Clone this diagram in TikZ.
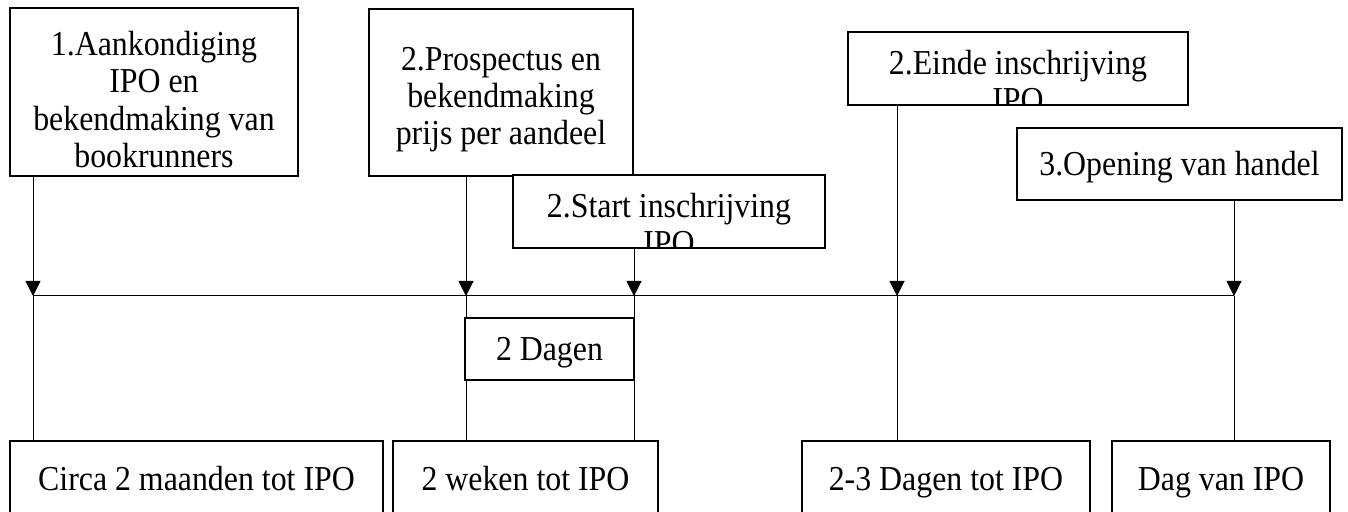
\documentclass[tikz,border=0pt]{standalone}
\usepackage{fontspec}
\setmainfont{Liberation Serif}[FakeStretch=0.91]
\usetikzlibrary{arrows.meta,positioning,calc}
\definecolor{fgbody}{HTML}{000000}
\definecolor{stroke}{HTML}{000000}
\definecolor{surf}{HTML}{FFFFFF}

\begin{document}
\begin{tikzpicture}[
  x=0.5pt, y=-0.5pt, >={Triangle[length=7.5pt,width=7.5pt]},
  every node/.append style={text=fgbody, font=\fontsize{17.5}{18.7}\selectfont},
  evt/.style={draw=stroke, line width=1pt, fill=surf, align=center, inner sep=0pt,
    text height=14pt, text depth=2pt},
  link/.style={draw=stroke, line width=0.5pt},
  inset/.style 2 args={path picture={\node[anchor=north, align=center, inner sep=0pt,
    draw=none, fill=none, minimum width=0pt, minimum height=0pt,
    text height=, text depth=]
    at ([yshift=-#1]path picture bounding box.north) {#2};}},
]
\useasboundingbox (0,0) rectangle (1348,512);
% timeline points
\coordinate (t1) at (33,296);
\coordinate (t2) at (466,296);
\coordinate (t3) at (634,296);
\coordinate (t4) at (897,296);
\coordinate (t5) at (1234,296);
% events above the line
\node[evt, minimum width=144pt, minimum height=84pt,
  inset={11pt}{1.Aankondiging\\IPO en\\bekendmaking van\\bookrunners}] (aank) at (154,92) {};
\node[evt, minimum width=132pt, minimum height=83.5pt,
  inset={18.5pt}{2.Prospectus en\\bekendmaking\\prijs per aandeel}] (prosp) at (501,92.5) {};
\node[evt, minimum width=156pt, minimum height=36.5pt,
  inset={8.5pt}{2.Start inschrijving\\IPO}] (start) at (669,211.5) {};
\node[evt, minimum width=170pt, minimum height=36.5pt,
  inset={8.5pt}{2.Einde inschrijving\\IPO}] (einde) at (1018,68.5) {};
\node[evt, minimum width=162.5pt, minimum height=36pt] (open) at (1179.5,164)
  {3.Opening van handel};
% periods below the line
\node[evt, minimum width=186.5pt, minimum height=37pt] (circa) at (196.5,478)
  {Circa 2 maanden tot IPO};
\node[evt, minimum width=132.5pt, minimum height=37pt] (weken) at (525.5,478)
  {2 weken tot IPO};
\node[evt, minimum width=144pt, minimum height=37pt] (drie) at (946,478)
  {2-3 Dagen tot IPO};
\node[evt, minimum width=109pt, minimum height=37pt] (dag) at (1221,478)
  {Dag van IPO};
% arrows onto the line
\draw[->, link] (aank.south -| t1) -- (t1);
\draw[->, link] (prosp.south -| t2) -- (t2);
\draw[->, link] (start.south -| t3) -- (t3);
\draw[->, link] (einde.south -| t4) -- (t4);
\draw[->, link] (open.south -| t5) -- (t5);
% the line and its drops
\draw[link] (t1) -- (t5);
\draw[link] (t1) -- (t1 |- circa.north);
\draw[link] (t2) -- (t2 |- weken.north);
\draw[link] (t3) -- (t3 |- weken.north);
\draw[link] (t4) -- (t4 |- drie.north);
\draw[link] (t5) -- (t5 |- dag.north);
\node[evt, minimum width=84.5pt, minimum height=31pt] (dagen) at (549.5,349) {2 Dagen};
\end{tikzpicture}
\end{document}
